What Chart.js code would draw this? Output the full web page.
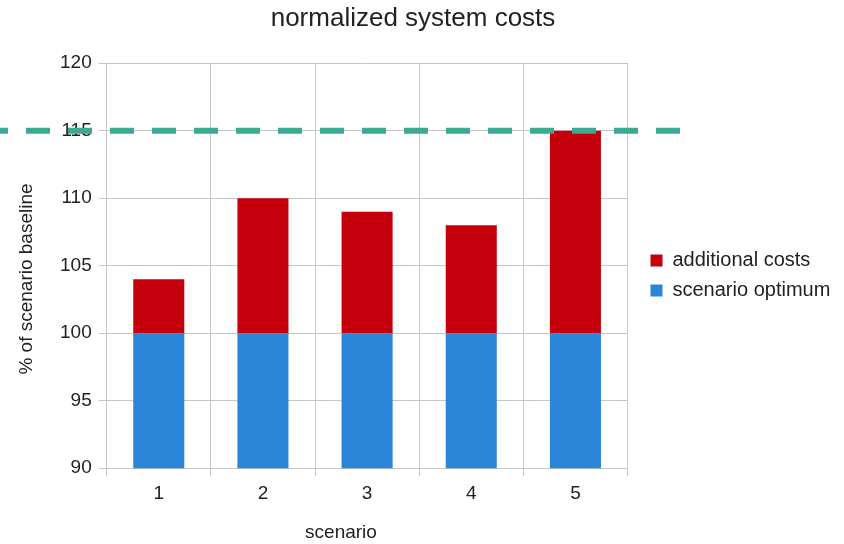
<!DOCTYPE html>
<html lang="en">
<head>
    <meta charset="UTF-8">
    <title>normalized system costs</title>
    <script src="https://cdn.jsdelivr.net/npm/chart.js"></script>
    <style>
        body {
            margin: 0;
            background: #ffffff;
        }
    </style>
</head>
<body>
    <canvas id="costChart" width="844" height="544"></canvas>

    <script>
        const scenarios = ['1', '2', '3', '4', '5'];
        const scenarioOptimum = [100, 100, 100, 100, 100];
        const additionalCosts = [4, 10, 9, 8, 15];
        const costLimit = 115;

        const fontFamily = "'Liberation Sans', Arial, sans-serif";

        // dashed limit line, runs past the plot area on both sides
        const limitLine = {
            id: 'limitLine',
            afterDatasetsDraw(chart) {
                const y = chart.scales.y.getPixelForValue(costLimit);
                const ctx = chart.ctx;
                ctx.save();
                ctx.strokeStyle = '#3caa93';
                ctx.lineWidth = 6;
                ctx.setLineDash([24, 18]);
                ctx.lineDashOffset = 16;
                ctx.beginPath();
                ctx.moveTo(0, y);
                ctx.lineTo(683, y);
                ctx.stroke();
                ctx.restore();
            }
        };

        // axis titles sit a bit off the plot centre, so draw them by hand
        const axisTitles = {
            id: 'axisTitles',
            afterDraw(chart) {
                const ctx = chart.ctx;
                ctx.save();
                ctx.fillStyle = '#222';
                ctx.font = '19px ' + fontFamily;
                ctx.textAlign = 'center';
                ctx.textBaseline = 'middle';
                ctx.fillText('scenario', 341, 533);
                ctx.translate(27, 279);
                ctx.rotate(-Math.PI / 2);
                ctx.fillText('% of scenario baseline', 0, 0);
                ctx.restore();
            }
        };

        // place title and legend boxes after layout
        const nudge = {
            id: 'nudge',
            afterLayout(chart) {
                chart.titleBlock.left = 0;
                chart.titleBlock.right = 826;
                chart.legend.left += 13;
                chart.legend.right += 13;
                chart.legend.top += 20;
                chart.legend.bottom += 20;
            }
        };

        new Chart(document.getElementById('costChart'), {
            type: 'bar',
            data: {
                labels: scenarios,
                datasets: [{
                    label: 'scenario optimum',
                    data: scenarioOptimum,
                    backgroundColor: '#2a84d8',
                    barPercentage: 0.49,
                    categoryPercentage: 1
                }, {
                    label: 'additional costs',
                    data: additionalCosts,
                    backgroundColor: '#c3000b',
                    barPercentage: 0.49,
                    categoryPercentage: 1
                }]
            },
            options: {
                responsive: false,
                animation: false,
                layout: {
                    padding: { left: 53, right: 25, bottom: 33 }
                },
                plugins: {
                    title: {
                        display: true,
                        text: 'normalized system costs',
                        color: '#222',
                        font: { family: fontFamily, size: 26, weight: 'normal' },
                        padding: { top: 3, bottom: 29 }
                    },
                    legend: {
                        position: 'right',
                        reverse: true,
                        labels: {
                            boxWidth: 12,
                            boxHeight: 12,
                            padding: 10,
                            color: '#222',
                            font: { family: fontFamily, size: 20 }
                        }
                    },
                    tooltip: { enabled: false }
                },
                scales: {
                    x: {
                        stacked: true,
                        grid: { color: '#c6c6c6', tickLength: 8 },
                        border: { color: '#c6c6c6' },
                        ticks: {
                            color: '#222',
                            padding: 6,
                            font: { family: fontFamily, size: 19 }
                        }
                    },
                    y: {
                        stacked: true,
                        min: 90,
                        max: 120,
                        grid: { color: '#c6c6c6', tickLength: 8 },
                        border: { color: '#c6c6c6' },
                        ticks: {
                            stepSize: 5,
                            color: '#222',
                            padding: 7,
                            font: { family: fontFamily, size: 19 }
                        }
                    }
                }
            },
            plugins: [limitLine, axisTitles, nudge]
        });
    </script>
</body>
</html>
